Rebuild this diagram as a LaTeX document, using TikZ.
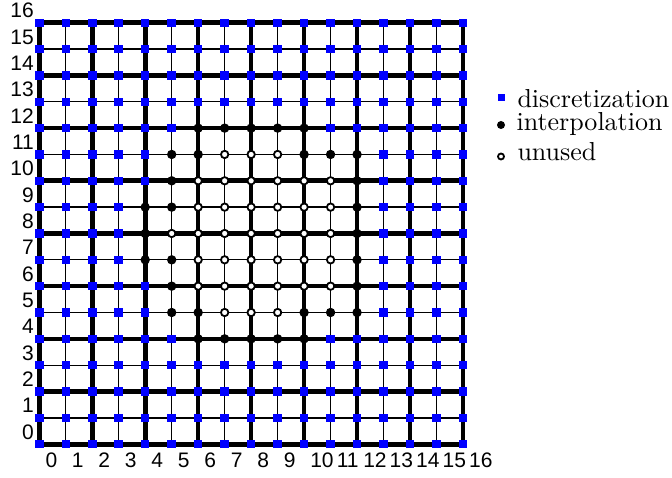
\documentclass[tikz,border=0pt]{standalone}
\usepackage{fontspec}
\newfontfamily\labfont{Liberation Sans}
\tikzset{
  thinline/.style={line width=1.3pt, black},
  thickline/.style={line width=4.6pt, black},
  ticklab/.style={inner sep=0pt, font=\labfont\fontsize{21}{24}\selectfont},
  legtext/.style={anchor=base west, inner sep=0pt, scale=2.6, font=\fontsize{10}{12}\selectfont},
  unusedmark/.style={line width=1.8pt, draw=black, fill=white},
}
\begin{document}
\begin{tikzpicture}[x=1pt,y=-1pt]
\useasboundingbox (0,0) rectangle (672,478);
\begin{scope}[shift={(39.3pt,-444.2pt)}, x=26.48pt, y=26.34pt]
  % grid
  \foreach \k in {1,3,...,15} {
    \draw[thinline] (\k,0) -- (\k,16);
    \draw[thinline] (0,\k) -- (16,\k);
  }
  \foreach \k in {0,2,...,16} {
    \draw[thickline] (\k,0) -- (\k,16);
    \draw[thickline] (0,\k) -- (16,\k);
  }
  % discretization points outside the central block
  \foreach \i in {0,...,16} {
    \foreach \j in {0,...,16} {
      \pgfmathparse{(\i<4 || \i>12 || \j<4 || \j>12) ? 1 : 0}
      \ifnum\pgfmathresult=1
        \fill[blue] (\i,\j) ++(-4.25pt,-4.25pt) rectangle ++(8.5pt,8.5pt);
      \fi
    }
  }
  % discretization points inside the central block
  \foreach \i/\j in {4/12,5/12,11/12,12/12,4/11,4/10,4/6,4/5,4/4,5/4,11/4,12/4} {
    \fill[blue] (\i,\j) ++(-4.25pt,-4.25pt) rectangle ++(8.5pt,8.5pt);
  }
  % interpolation points
  \foreach \i/\j in {6/12,7/12,8/12,9/12,10/12,
                     5/11,6/11,10/11,11/11,12/11,
                     5/10,12/10,
                     4/9,5/9,12/9,
                     4/8,12/8,
                     4/7,5/7,12/7,
                     5/6,12/6,
                     5/5,6/5,10/5,11/5,12/5,
                     6/4,7/4,8/4,9/4,10/4} {
    \fill[black] (\i,\j) circle (4.7pt);
  }
  % unused points
  \foreach \i/\j in {7/11,8/11,9/11,
                     6/10,7/10,8/10,9/10,10/10,11/10,
                     6/9,7/9,8/9,9/9,10/9,11/9,
                     5/8,6/8,7/8,8/8,9/8,10/8,11/8,
                     6/7,7/7,8/7,9/7,10/7,11/7,
                     6/6,7/6,8/6,9/6,10/6,11/6,
                     7/5,8/5,9/5} {
    \draw[unusedmark] (\i,\j) circle (3.7pt);
  }
  % tick labels
  \foreach \k in {0,...,16} {
    \node[ticklab, anchor=base west, xshift=6pt, yshift=-22.8pt] (xl\k) at (\k,0) {\k};
    \node[ticklab, anchor=base east, xshift=-5.3pt, yshift=5pt] (yl\k) at (0,\k) {\k};
  }
\end{scope}
% legend
\fill[blue] (498.4,94.4) rectangle (505,101);
\fill[black] (501,125) circle (4pt);
\draw[unusedmark] (501,156.5) circle (3pt);
\node[legtext] (ld) at (517,108) {discretization};
\node[legtext] (li) at (516,131) {interpolation};
\node[legtext] (lu) at (517,160.5) {unused};
\end{tikzpicture}
\end{document}
